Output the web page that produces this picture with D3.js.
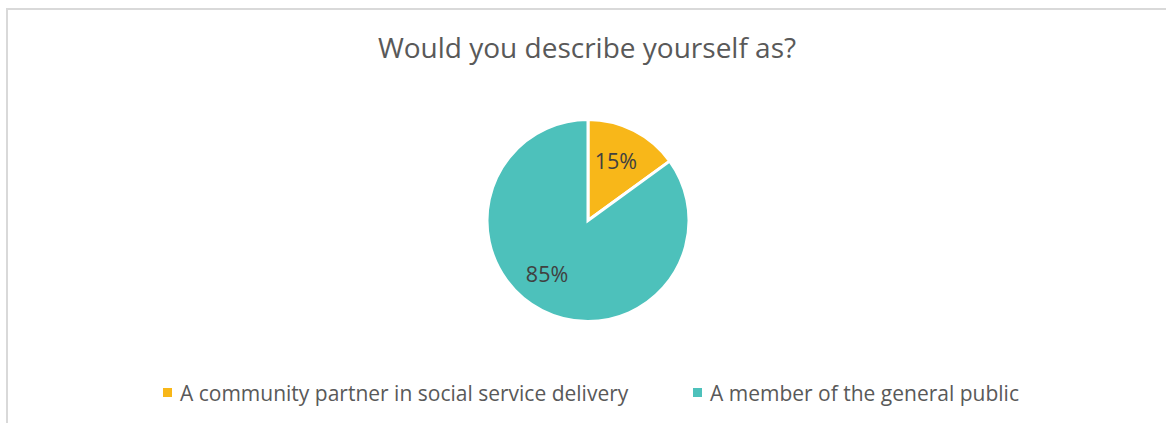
<!DOCTYPE html>
<html lang="en">
<head>
  <meta charset="UTF-8">
  <title>Would you describe yourself as?</title>
  <script src="https://d3js.org/d3.v7.min.js"></script>
  <style>
    body { margin: 0; background: #fff; }
    text { font-family: "Open Sans", "Noto Sans", sans-serif; fill: #595959; }
  </style>
</head>
<body>
  <script>
    // Chart data
    const categories = ["A community partner in social service delivery", "A member of the general public"];
    const values = [15, 85];
    const colors = ["#F8B719", "#4DC1BB"];
    const title = "Would you describe yourself as?";

    const width = 1166;
    const height = 423;

    const svg = d3.select("body")
      .append("svg")
      .attr("width", width)
      .attr("height", height);

    // chart area border (only top and left visible in the crop)
    svg.append("path")
      .attr("d", `M7,${height} V9 H${width}`)
      .attr("fill", "none")
      .attr("stroke", "#D9D9D9")
      .attr("stroke-width", 2);

    // Title
    svg.append("text")
      .attr("x", 587)
      .attr("y", 58)
      .attr("text-anchor", "middle")
      .attr("font-size", 28)
      .text(title);

    // Pie (radius includes half of the white stroke)
    const cx = 588, cy = 220.5, radius = 101;
    const pie = d3.pie().sort(null).value(d => d);
    const arc = d3.arc().innerRadius(0).outerRadius(radius);
    const labelArc = d3.arc().innerRadius(66).outerRadius(66);

    const g = svg.append("g").attr("transform", `translate(${cx},${cy})`);
    const arcs = pie(values);

    g.selectAll("path")
      .data(arcs)
      .enter()
      .append("path")
      .attr("d", arc)
      .attr("fill", (d, i) => colors[i])
      .attr("stroke", "#fff")
      .attr("stroke-width", 3)
      .attr("stroke-linejoin", "miter");

    const labelOffsets = [[-2, 0], [-11, -5]];
    g.selectAll("text.label")
      .data(arcs)
      .enter()
      .append("text")
      .attr("class", "label")
      .attr("transform", (d, i) => {
        const c = labelArc.centroid(d);
        return `translate(${c[0] + labelOffsets[i][0]},${c[1] + labelOffsets[i][1]})`;
      })
      .attr("text-anchor", "middle")
      .attr("dy", "0.35em")
      .attr("font-size", 21.5)
      .style("fill", "#404040")
      .text(d => d.data + "%");

    // Legend
    const legendX = [163, 693];
    const legend = svg.selectAll("g.legend")
      .data(categories)
      .enter()
      .append("g")
      .attr("class", "legend")
      .attr("transform", (d, i) => `translate(${legendX[i]},388)`);

    legend.append("rect")
      .attr("width", 9)
      .attr("height", 9)
      .attr("fill", (d, i) => colors[i]);

    legend.append("text")
      .attr("x", 17)
      .attr("y", 12.5)
      .attr("font-size", 21)
      .text(d => d);
  </script>
</body>
</html>
